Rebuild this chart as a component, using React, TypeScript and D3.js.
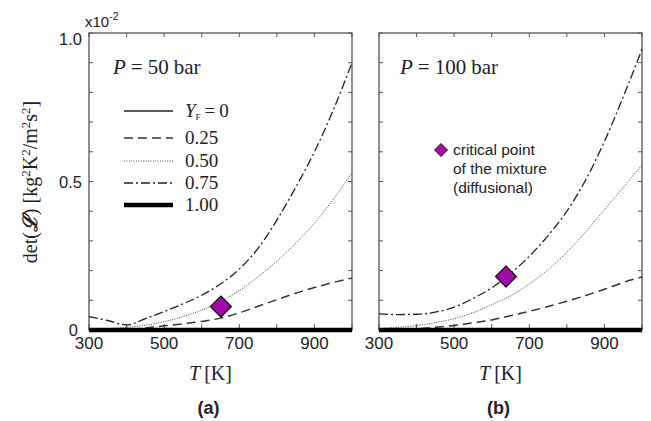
import React from "react";
import * as d3 from "d3";

// Temperature grid [K]
const T_K = [300, 350, 400, 450, 500, 550, 600, 650, 700, 750, 800, 850, 900, 950, 1000];

// det(L) in units of 1e-2 kg^2K^2/m^2s^2, P = 50 bar
const p50_Y000 = [0, 0, 0, 0, 0, 0, 0, 0, 0, 0, 0, 0, 0, 0, 0];
const p50_Y025 = [0, 0, 0.002, 0.007, 0.014, 0.021, 0.029, 0.04, 0.058, 0.08, 0.102, 0.124, 0.143, 0.16, 0.175];
const p50_Y050 = [0.004, 0.005, 0.009, 0.016, 0.028, 0.045, 0.067, 0.096, 0.133, 0.179, 0.232, 0.292, 0.36, 0.44, 0.53];
const p50_Y075 = [0.045, 0.032, 0.017, 0.038, 0.062, 0.088, 0.117, 0.155, 0.205, 0.275, 0.37, 0.48, 0.6, 0.74, 0.9];
const p50_Y100 = [0, 0, 0, 0, 0, 0, 0, 0, 0, 0, 0, 0, 0, 0, 0];

// P = 100 bar
const p100_Y000 = [0, 0, 0, 0, 0, 0, 0, 0, 0, 0, 0, 0, 0, 0, 0];
const p100_Y025 = [0, 0.001, 0.004, 0.009, 0.015, 0.024, 0.034, 0.048, 0.063, 0.079, 0.097, 0.116, 0.137, 0.16, 0.179];
const p100_Y050 = [0.005, 0.009, 0.015, 0.025, 0.038, 0.058, 0.085, 0.115, 0.155, 0.203, 0.262, 0.33, 0.405, 0.48, 0.556];
const p100_Y075 = [0.054, 0.052, 0.053, 0.06, 0.077, 0.106, 0.142, 0.19, 0.248, 0.318, 0.4, 0.505, 0.635, 0.785, 0.945];
const p100_Y100 = [0, 0, 0, 0, 0, 0, 0, 0, 0, 0, 0, 0, 0, 0, 0];

// Critical point of the mixture (diffusional)
const criticalT = [651, 638];
const criticalDet = [0.079, 0.18];

const yFLabels = ["0", "0.25", "0.50", "0.75", "1.00"];
const xTickLabels = [300, 500, 700, 900];
const yTickLabels = ["0", "0.5", "1.0"];
const panelTitles = ["P = 50 bar", "P = 100 bar"];
const panelPressures = ["50", "100"];
const panelTags = ["(a)", "(b)"];

const SERIF = "'Liberation Serif', 'DejaVu Serif', serif";
const SANS = "'Liberation Sans', Arial, sans-serif";

type Style = { dash: string; width: number; color: string };
const lineStyles: Style[] = [
  { dash: "none", width: 1.3, color: "#222" },
  { dash: "9,5", width: 1.5, color: "#333" },
  { dash: "1,1.4", width: 1.0, color: "#444" },
  { dash: "9,3,2,3", width: 1.3, color: "#222" },
  { dash: "none", width: 4.5, color: "#000" },
];

const seriesByPanel = [
  [p50_Y000, p50_Y025, p50_Y050, p50_Y075, p50_Y100],
  [p100_Y000, p100_Y025, p100_Y050, p100_Y075, p100_Y100],
];

const TOP = 33;
const BOTTOM = 330;
const panelLeft = [89, 379];
const PANEL_W = 263;

const DIAMOND = "#a10aa8";

function diamondPath(cx: number, cy: number, r: number) {
  return `M${cx},${cy - r}L${cx + r},${cy}L${cx},${cy + r}L${cx - r},${cy}Z`;
}

function Panel({ idx }: { idx: number }) {
  const x0 = panelLeft[idx];
  const x = d3.scaleLinear().domain([300, 1000]).range([x0, x0 + PANEL_W]);
  const y = d3.scaleLinear().domain([0, 1]).range([BOTTOM, TOP]);
  const xTicks = d3.range(300, 1001, 100);
  const yTicks = d3.range(0, 11).map((i) => i / 10);
  const line = d3
    .line<number>()
    .x((_, i) => x(T_K[i]))
    .y((v) => y(v))
    .curve(d3.curveMonotoneX);
  const series = seriesByPanel[idx];
  const frame = "#555";
  const tk = 4;
  const cx = x((300 + 1000) / 2);

  return (
    <g>
      {/* inward ticks on all four sides */}
      {xTicks.map((t) => (
        <g key={"xt" + t}>
          <line x1={x(t)} x2={x(t)} y1={TOP} y2={TOP + tk} stroke={frame} strokeWidth={1} />
          <line x1={x(t)} x2={x(t)} y1={BOTTOM} y2={BOTTOM - tk - 2} stroke={frame} strokeWidth={1} />
        </g>
      ))}
      {yTicks.map((t) => (
        <g key={"yt" + t}>
          <line x1={x0} x2={x0 + tk} y1={y(t)} y2={y(t)} stroke={frame} strokeWidth={1} />
          <line x1={x0 + PANEL_W} x2={x0 + PANEL_W - tk} y1={y(t)} y2={y(t)} stroke={frame} strokeWidth={1} />
        </g>
      ))}
      <rect x={x0} y={TOP} width={PANEL_W} height={BOTTOM - TOP} fill="none" stroke={frame} strokeWidth={1.3} />

      {/* curves, drawn so the thick Y_F = 1 line sits on top */}
      {[0, 1, 2, 3, 4].map((k) => (
        <path
          key={"s" + k}
          d={line(series[k]) || ""}
          fill="none"
          stroke={lineStyles[k].color}
          strokeWidth={lineStyles[k].width}
          strokeDasharray={lineStyles[k].dash}
        />
      ))}

      {/* critical point */}
      <path
        d={diamondPath(x(criticalT[idx]), y(criticalDet[idx]), 10.5)}
        fill={DIAMOND}
        stroke="#111"
        strokeWidth={1.2}
      />

      {/* x tick labels */}
      {xTickLabels.map((t) => (
        <text key={"xl" + t} x={x(t)} y={349} textAnchor="middle" fontFamily={SANS} fontSize={17} fill="#222">
          {t}
        </text>
      ))}

      {/* x axis title */}
      <text x={cx - 10} y={380} textAnchor="middle" fontFamily={SERIF} fontSize={20} fill="#222">
        <tspan fontStyle="italic">T</tspan>
        <tspan dx={4}>[K]</tspan>
      </text>
      <text x={cx - 12} y={414} textAnchor="middle" fontFamily={SANS} fontSize={18} fontWeight="bold" fill="#222">
        {panelTags[idx]}
      </text>

      {/* pressure label */}
      <text x={x0 + 24 - idx * 3} y={74} fontFamily={SERIF} fontSize={21} fill="#222" aria-label={panelTitles[idx]}>
        <tspan fontStyle="italic">P</tspan>
        <tspan dx={5}>=</tspan>
        <tspan dx={5}>{panelPressures[idx]}</tspan>
        <tspan dx={5}>bar</tspan>
      </text>
    </g>
  );
}

function Legend() {
  const lx1 = 124;
  const lx2 = 173;
  const rows = [111, 138, 161, 183, 205];
  return (
    <g>
      {rows.map((ry, k) => (
        <g key={"lg" + k}>
          <line
            x1={lx1}
            x2={lx2}
            y1={ry}
            y2={ry}
            stroke={lineStyles[k].color}
            strokeWidth={lineStyles[k].width}
            strokeDasharray={lineStyles[k].dash}
          />
          <text x={185} y={ry + 6} fontFamily={SERIF} fontSize={19} fill="#222">
            {k === 0 ? (
              <>
                <tspan fontStyle="italic">Y</tspan>
                <tspan fontSize={9} dy={3}>F</tspan>
                <tspan dy={-3} dx={4}>=</tspan>
                <tspan dx={4}>{yFLabels[k]}</tspan>
              </>
            ) : (
              yFLabels[k]
            )}
          </text>
        </g>
      ))}
    </g>
  );
}

function CriticalLegend() {
  return (
    <g>
      <path d={diamondPath(441, 150, 6.5)} fill={DIAMOND} stroke="#111" strokeWidth={1} />
      {["critical point", "of the mixture", "(diffusional)"].map((s, i) => (
        <text key={s} x={453} y={155 + i * 19} fontFamily={SANS} fontSize={15.5} fill="#222">
          {s}
        </text>
      ))}
    </g>
  );
}

export default function App() {
  const y = d3.scaleLinear().domain([0, 1]).range([BOTTOM, TOP]);
  return (
    <svg
      width={651}
      height={421}
      viewBox="0 0 651 421"
      style={{ position: "absolute", left: 0, top: 0, background: "#fff" }}
    >
      <rect x={0} y={0} width={651} height={421} fill="#fff" />
      <Panel idx={0} />
      <Panel idx={1} />
      <Legend />
      <CriticalLegend />

      {/* shared y axis labels */}
      {yTickLabels.map((s) => (
        <text
          key={s}
          x={s === "0" ? 78 : 82}
          y={y(parseFloat(s)) + (s === "1.0" ? 12 : 6)}
          textAnchor="end"
          fontFamily={SANS}
          fontSize={16.5}
          fill="#222"
        >
          {s}
        </text>
      ))}
      <text x={85} y={27} fontFamily={SANS} fontSize={15} fill="#222">
        x10
        <tspan fontSize={10.5} dy={-7}>-2</tspan>
      </text>
      <text
        transform="translate(37,182) rotate(-90)"
        textAnchor="middle"
        fontFamily={SERIF}
        fontSize={20}
        fill="#222"
      >
        det(<tspan fontStyle="italic" fontWeight="bold">ℒ</tspan>)
        <tspan dx={5}>[kg</tspan>
        <tspan fontSize={13} dy={-7}>2</tspan>
        <tspan dy={7}>K</tspan>
        <tspan fontSize={13} dy={-7}>2</tspan>
        <tspan dy={7}>/m</tspan>
        <tspan fontSize={13} dy={-7}>2</tspan>
        <tspan dy={7}>s</tspan>
        <tspan fontSize={13} dy={-7}>2</tspan>
        <tspan dy={7}>]</tspan>
      </text>
    </svg>
  );
}
